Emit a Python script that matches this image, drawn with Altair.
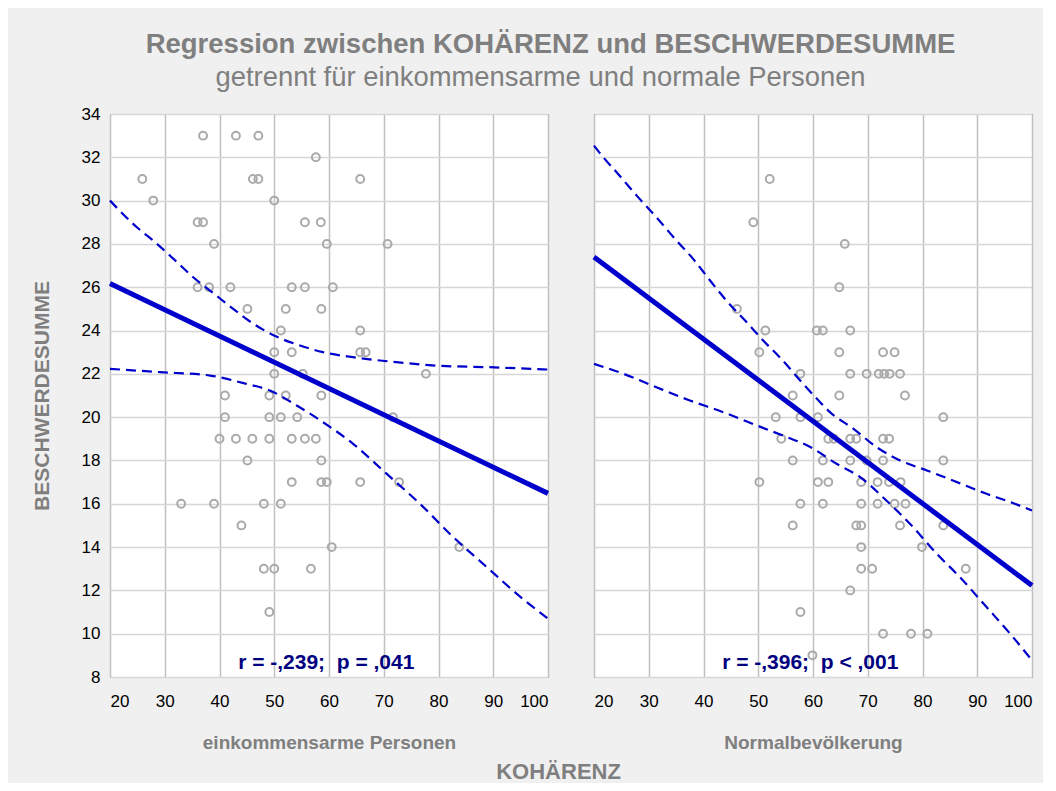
import altair as alt
import pandas as pd

# ---------------- data ----------------
X_TICKS = [20, 30, 40, 50, 60, 70, 80, 90, 100]
Y_TICKS = [8, 10, 12, 14, 16, 18, 20, 22, 24, 26, 28, 30, 32, 34]

# einkommensarme Personen (left panel) scatter
L_X = [37.0, 43.0, 47.1,
       57.6,
       25.9, 46.1, 47.1, 65.7,
       27.9, 50.0,
       36.0, 37.0, 55.6, 58.5,
       39.0, 59.6, 70.7,
       36.0, 38.1, 42.0, 53.2, 55.6, 60.7,
       45.1, 52.1, 58.6,
       51.2, 65.7,
       50.0, 53.2, 65.7, 66.7,
       50.0, 55.2, 77.7,
       41.0, 49.1, 52.1, 58.6,
       41.0, 49.1, 51.2, 54.2, 71.7,
       40.0, 43.0, 46.0, 49.1, 53.2, 55.6, 57.6,
       45.1, 58.6,
       53.2, 58.6, 59.6, 65.7, 72.8,
       33.0, 39.0, 48.1, 51.2,
       44.0,
       60.5, 83.8,
       48.1, 50.0, 56.7,
       49.1]
L_Y = [33, 33, 33,
       32,
       31, 31, 31, 31,
       30, 30,
       29, 29, 29, 29,
       28, 28, 28,
       26, 26, 26, 26, 26, 26,
       25, 25, 25,
       24, 24,
       23, 23, 23, 23,
       22, 22, 22,
       21, 21, 21, 21,
       20, 20, 20, 20, 20,
       19, 19, 19, 19, 19, 19, 19,
       18, 18,
       17, 17, 17, 17, 17,
       16, 16, 16, 16,
       15,
       14, 14,
       13, 13, 13,
       11]

# Normalbevoelkerung (right panel) scatter
R_X = [52.1,
       49.1,
       65.8,
       64.8,
       46.1,
       51.3, 60.7, 61.8, 66.8,
       50.2, 64.8, 72.8, 74.9,
       57.7, 66.8, 69.8, 72.0, 73.0, 74.0, 75.9,
       56.3, 64.8, 76.8,
       53.2, 57.7, 60.9, 83.8,
       54.2, 62.8, 63.8, 66.8, 67.9, 72.8, 73.9,
       56.3, 61.8, 66.8, 69.8, 72.8, 83.8,
       50.2, 60.9, 62.8, 68.8, 71.8, 73.9, 76.0,
       57.7, 61.8, 68.8, 71.8, 74.9, 76.9,
       56.3, 67.9, 68.8, 75.9, 83.8,
       68.8, 79.9,
       68.8, 70.8, 87.9,
       66.8,
       57.7,
       72.8, 77.9, 80.9,
       59.9]
R_Y = [31,
       29,
       28,
       26,
       25,
       24, 24, 24, 24,
       23, 23, 23, 23,
       22, 22, 22, 22, 22, 22, 22,
       21, 21, 21,
       20, 20, 20, 20,
       19, 19, 19, 19, 19, 19, 19,
       18, 18, 18, 18, 18, 18,
       17, 17, 17, 17, 17, 17, 17,
       16, 16, 16, 16, 16, 16,
       15, 15, 15, 15, 15,
       14, 14,
       13, 13, 13,
       12,
       11,
       10, 10, 10,
       9]

# regression lines (end points)
L_LINE_X = [20, 100]
L_LINE_Y = [26.17, 16.48]
R_LINE_X = [20, 100]
R_LINE_Y = [27.40, 12.22]

# confidence band curves
L_UP_X = [20, 24.9, 27.9, 31.6, 35.2, 38.9, 42.5, 46.2, 50.4, 54.7, 58.9, 64.4, 72.3, 79.6, 88.8, 100]
L_UP_Y = [30.0, 28.77, 28.15, 27.31, 26.46, 25.72, 25.0, 24.31, 23.72, 23.31, 23.0, 22.77, 22.54, 22.38, 22.31, 22.2]
L_LO_X = [20, 29.1, 38.3, 44.4, 49.2, 54.1, 58.9, 64.4, 70.5, 76.6, 82.7, 88.8, 95.0, 100]
L_LO_Y = [22.23, 22.08, 21.92, 21.57, 21.23, 20.54, 19.77, 18.77, 17.39, 16.0, 14.46, 13.08, 11.69, 10.7]
R_UP_X = [20, 21.7, 24.4, 27.8, 31.4, 34.8, 38.1, 41.2, 44.2, 47.9, 50.9, 54.2, 58.2, 61.3, 63.1, 67.4, 71.6, 75.9, 80.8, 86.3, 91.7, 96.0, 100]
R_UP_Y = [32.54, 32.0, 31.23, 30.23, 29.23, 28.23, 27.31, 26.31, 25.38, 24.38, 23.54, 22.69, 21.54, 20.69, 20.23, 19.46, 18.62, 18.0, 17.54, 17.0, 16.46, 16.08, 15.69]
R_LO_X = [20, 25.4, 31.4, 37.5, 43.6, 49.7, 54.5, 59.5, 64.3, 68.6, 73.4, 77.7, 82.6, 86.8, 91.7, 96.0, 100]
R_LO_Y = [22.46, 22.0, 21.38, 20.77, 20.23, 19.62, 19.15, 18.62, 17.85, 17.23, 16.15, 15.08, 13.69, 12.62, 11.23, 10.0, 8.77]

PANEL_LABELS = ["einkommensarme Personen", "Normalbevölkerung"]
STAT_TEXT = ["r = -,239;\u00a0 p = ,041", "r = -,396;\u00a0 p < ,001"]
STAT_X = [59.5, 59.5]
STAT_Y = [8.65, 8.65]

TITLE = "Regression zwischen KOHÄRENZ und BESCHWERDESUMME"
SUBTITLE = "getrennt für einkommensarme und normale Personen"
X_TITLE = "KOHÄRENZ"
Y_TITLE = "BESCHWERDESUMME"

FONT = "Liberation Sans"
GRAY = "#7f7f7f"
BLUE = "#0000cc"
NAVY = "#000080"


def panel(px, py, lx, ly, ux, uy, dx, dy, label, stat, sx, sy, first):
    xenc = alt.X("x:Q",
                 scale=alt.Scale(domain=[20, 100], nice=False, zero=False),
                 axis=alt.Axis(values=X_TICKS, title=label, ticks=False, domain=False,
                               grid=True, gridColor="#c0c0c0", gridWidth=1.5,
                               labelFontSize=17, labelColor="#000000", labelFont=FONT,
                               labelPadding=16, titleFontSize=19, titleFont=FONT,
                               titleFontWeight="bold", titleColor=GRAY, titlePadding=24))
    if first:
        yaxis = alt.Axis(values=Y_TICKS, title=Y_TITLE, ticks=False, domain=False,
                         grid=True, gridColor="#d6d6d6", gridWidth=1.5,
                         labelFontSize=17, labelColor="#000000", labelFont=FONT,
                         labelPadding=10, titleFontSize=21, titleFont=FONT,
                         titleFontWeight="bold", titleColor=GRAY, titlePadding=29)
    else:
        yaxis = alt.Axis(values=Y_TICKS, title=None, ticks=False, domain=False,
                         labels=False, grid=True, gridColor="#d6d6d6", gridWidth=1.5)
    yenc = alt.Y("y:Q", scale=alt.Scale(domain=[8, 34], nice=False, zero=False), axis=yaxis)

    pts = alt.Chart(pd.DataFrame({"x": px, "y": py})).mark_point(
        shape="circle", filled=False, color="#aaaaaa", strokeWidth=2, size=62, opacity=1
    ).encode(x=xenc, y=yenc)

    reg = alt.Chart(pd.DataFrame({"x": lx, "y": ly})).mark_line(
        color=BLUE, strokeWidth=5
    ).encode(x="x:Q", y="y:Q")

    up = alt.Chart(pd.DataFrame({"x": ux, "y": uy})).mark_line(
        color=BLUE, strokeWidth=2.2, strokeDash=[10, 6], interpolate="monotone"
    ).encode(x="x:Q", y="y:Q")

    lo = alt.Chart(pd.DataFrame({"x": dx, "y": dy})).mark_line(
        color=BLUE, strokeWidth=2.2, strokeDash=[10, 6], interpolate="monotone"
    ).encode(x="x:Q", y="y:Q")

    txt = alt.Chart(pd.DataFrame({"x": [sx], "y": [sy], "t": [stat]})).mark_text(
        font=FONT, fontSize=21, fontWeight="bold", color=NAVY, align="center", baseline="middle"
    ).encode(x="x:Q", y="y:Q", text="t:N")

    return alt.layer(pts, reg, up, lo, txt).properties(width=438, height=563)


left = panel(L_X, L_Y, L_LINE_X, L_LINE_Y, L_UP_X, L_UP_Y, L_LO_X, L_LO_Y,
             PANEL_LABELS[0], STAT_TEXT[0], STAT_X[0], STAT_Y[0], True)
right = panel(R_X, R_Y, R_LINE_X, R_LINE_Y, R_UP_X, R_UP_Y, R_LO_X, R_LO_Y,
              PANEL_LABELS[1], STAT_TEXT[1], STAT_X[1], STAT_Y[1], False)

inner = alt.hconcat(left, right, spacing=46, bounds="flush").properties(
    title=alt.TitleParams(X_TITLE, orient="bottom", anchor="middle", font=FONT,
                          fontSize=22, fontWeight="bold", color=GRAY, offset=9, dx=22)
)

mid = alt.vconcat(inner).properties(
    title=alt.TitleParams(SUBTITLE, anchor="middle", font=FONT, fontSize=27.4,
                          fontWeight="normal", color=GRAY, offset=13, dx=4)
)

chart = alt.vconcat(mid).properties(
    title=alt.TitleParams(TITLE, anchor="middle", font=FONT,
                          fontSize=27.5, fontWeight="bold", color=GRAY,
                          offset=6, dx=14),
    padding={"left": 22, "top": 22, "right": 0, "bottom": 0},
    background="#f0f0f0",
).configure_view(stroke="#333333", strokeWidth=1, fill="white")

chart.save("out.html", embed_options={"renderer": "svg", "actions": False})
